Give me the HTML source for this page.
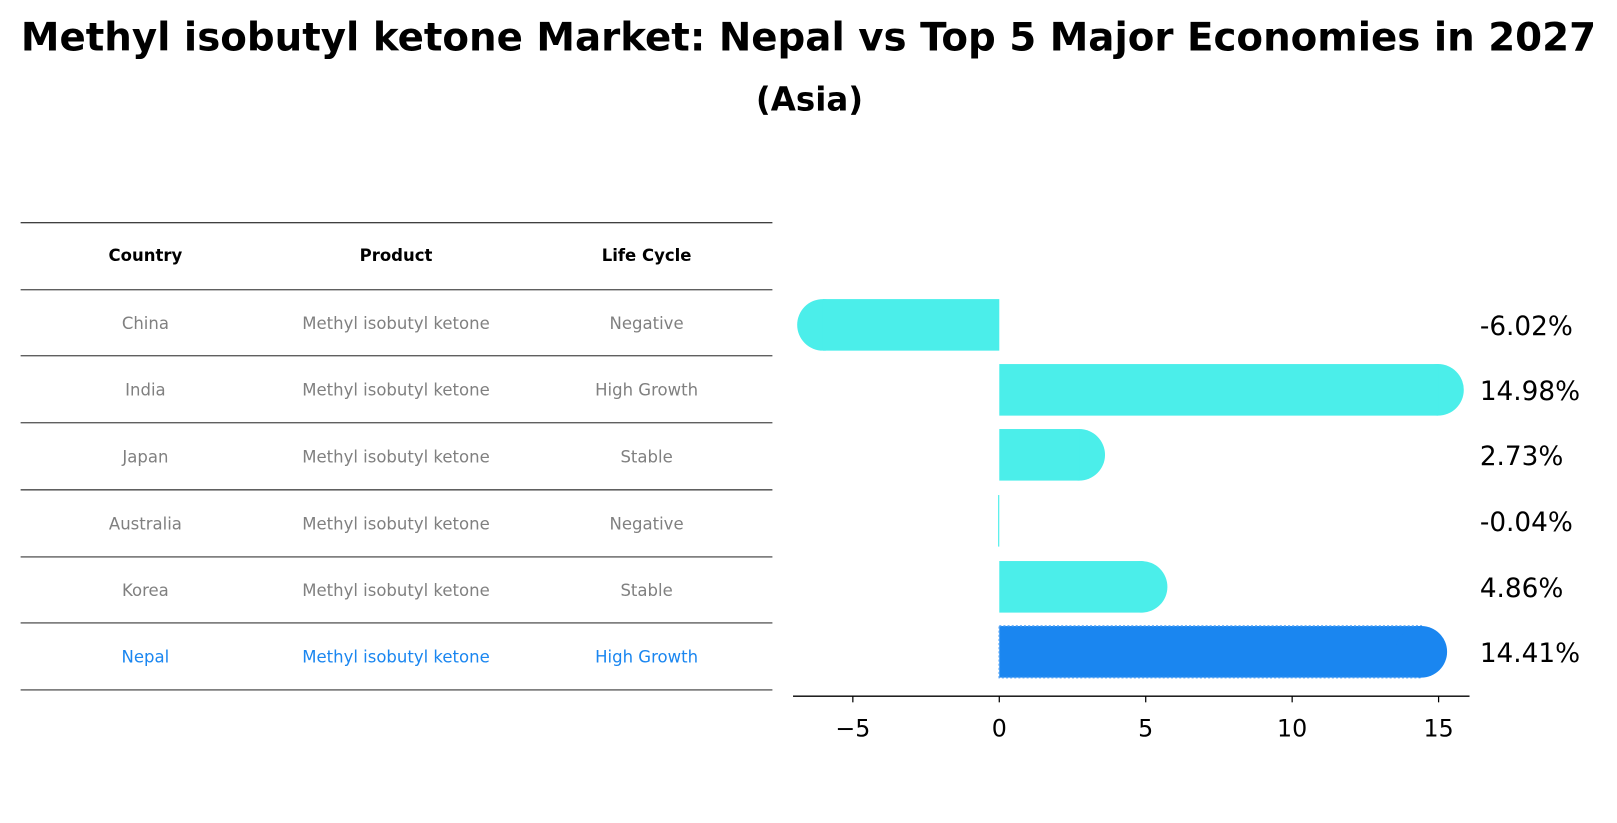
<!DOCTYPE html>
<html><head><meta charset="utf-8"><style>
body{margin:0;background:#fff;font-family:"Liberation Sans","DejaVu Sans",sans-serif;}
#wrap{position:relative;width:1617px;height:823px;overflow:hidden;}
</style></head><body>
<div id="wrap">
<svg id="svg" width="1617" height="823" viewBox="0 0 1568 798" preserveAspectRatio="none" xmlns="http://www.w3.org/2000/svg">
<text x="784" y="49" text-anchor="middle" font-size="37.6" font-weight="bold" font-family="DejaVu Sans, sans-serif">Methyl isobutyl ketone Market: Nepal vs Top 5 Major Economies in 2027</text>
<text x="785" y="107" text-anchor="middle" font-size="31.5" font-weight="bold" font-family="DejaVu Sans, sans-serif">(Asia)</text>
<g id="table"></g>
<g id="bars"></g>
</svg>
</div>
<script>
const countries=["China","India","Japan","Australia","Korea","Nepal"];
const products=["Methyl isobutyl ketone","Methyl isobutyl ketone","Methyl isobutyl ketone","Methyl isobutyl ketone","Methyl isobutyl ketone","Methyl isobutyl ketone"];
const lifeCycles=["Negative","High Growth","Stable","Negative","Stable","High Growth"];
const values=[-6.02,14.98,2.73,-0.04,4.86,14.41];
const ticks=[-5,0,5,10,15];

const NS="http://www.w3.org/2000/svg";
function mk(tag,attrs,parent,text){const e=document.createElementNS(NS,tag);for(const k in attrs)e.setAttribute(k,attrs[k]);if(text!==undefined)e.textContent=text;parent.appendChild(e);return e;}
const tbl=document.getElementById('table');
const lineYs=[216,281,345,410,475,540,604,669];
lineYs.forEach(y=>{const l=mk('line',{x1:20,x2:749,y1:y,y2:y,stroke:'#000','stroke-width':0.9},tbl);

});
const colX=[141,384,627];
const hdr=["Country","Product","Life Cycle"];
hdr.forEach((h,i)=>{const t=mk('text',{x:colX[i],y:253,'text-anchor':'middle','font-size':16,'font-weight':'bold','font-family':'DejaVu Sans, sans-serif'},tbl,h);

});
countries.forEach((c,r)=>{
  const y=(lineYs[r+1]+lineYs[r+2])/2+6;
  const col=c==="Nepal"?"#1a86f0":"#808080";
  [c,products[r],lifeCycles[r]].forEach((v,i)=>{
    const t=mk('text',{x:colX[i],y:y,'text-anchor':'middle','font-size':16,fill:col,'font-family':'DejaVu Sans, sans-serif'},tbl,v);
    
    
  });
});

const g=document.getElementById('bars');
const x0=969, ppu=28.4;
const X=v=>x0+v*ppu;
const yC=[315,378,441,505,569,632];
const bh=50;
values.forEach((v,i)=>{
  const nep=countries[i]==="Nepal";
  const col=nep?"#1a86f0":"#4beeea";
  const xa=Math.min(X(0),X(v)), w=Math.abs(X(v)-X(0));
  if(!nep && Math.abs(v)>=0.5){
    const c=mk('circle',{cx:X(v),cy:yC[i],r:25,fill:col},g);
    
    
  }
  const r=mk('rect',{x:xa,y:yC[i]-bh/2,width:Math.max(w,1),height:bh,fill:col},g);
  if(nep){r.setAttribute('stroke','#4b9ff5');r.setAttribute('stroke-dasharray','2,2');r.setAttribute('stroke-width','1.5');}
  
  
  if(nep){const c=mk('circle',{cx:X(v),cy:yC[i],r:25,fill:col},g);
    
    }
  const t=mk('text',{x:1435,y:yC[i]+10,'font-size':25.5,'font-family':'DejaVu Sans, sans-serif'},g,v.toFixed(2)+'%');
  
  
});
const ax=mk('line',{x1:769,x2:1425,y1:675,y2:675,stroke:'#000','stroke-width':1.3},g);


ticks.forEach(tv=>{
  const l=mk('line',{x1:X(tv),x2:X(tv),y1:675,y2:681,stroke:'#000','stroke-width':1.2},g);
  
  
  const t=mk('text',{x:X(tv),y:714,'text-anchor':'middle','font-size':23,'font-family':'DejaVu Sans, sans-serif'},g,tv<0?'\u2212'+Math.abs(tv):String(tv));
  
  
});
</script>
</body></html>
